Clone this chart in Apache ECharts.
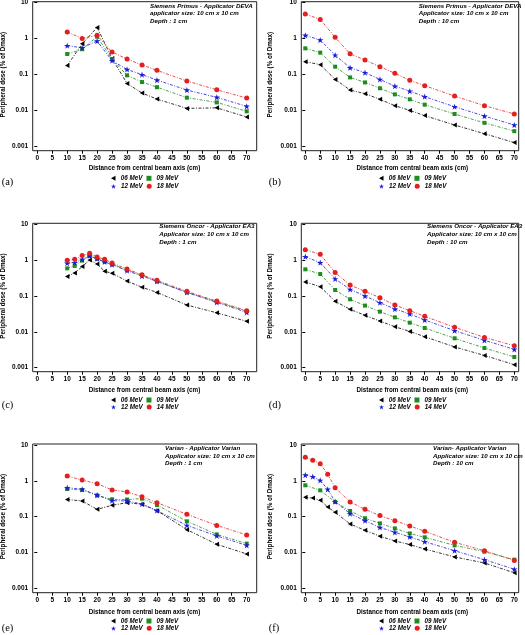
<!DOCTYPE html>
<html><head><meta charset="utf-8">
<script src="https://cdn.jsdelivr.net/npm/echarts/dist/echarts.min.js"></script>
<style>html,body{margin:0;padding:0;background:#fff}#c{width:525px;height:635px}</style>
</head><body><div id="c"></div>
<script>
// ---------- DATA ----------
const xA = [10,15,20,25,30,35,40,50,60,70];
const a06 = [0.18,0.72,2.06,0.28,0.057,0.031,0.021,0.0116,0.012,0.0067];
const a09 = [0.375,0.51,1.14,0.27,0.096,0.0625,0.045,0.023,0.017,0.0096];
const a12 = [0.64,0.56,0.86,0.245,0.14,0.1,0.071,0.0375,0.0235,0.0132];
const a18 = [1.53,1.02,1.24,0.426,0.272,0.186,0.132,0.0667,0.038,0.0225];

const xB = [0,5,10,15,20,25,30,35,40,50,60,70];
const b06 = [0.23,0.19,0.074,0.0375,0.0297,0.0207,0.0138,0.0102,0.0073,0.0040,0.0023,0.0013];
const b09 = [0.54,0.41,0.167,0.084,0.061,0.042,0.0284,0.0207,0.0147,0.0081,0.0046,0.0027];
const b12 = [1.24,0.92,0.35,0.156,0.114,0.074,0.048,0.035,0.0245,0.0129,0.0071,0.0040];
const b18 = [4.84,3.44,1.09,0.38,0.255,0.167,0.109,0.0697,0.0495,0.0255,0.0138,0.0081];

const xC = [10,12.5,15,17.5,20,22.5,25,30,35,40,50,60,70];
const c06 = [0.35,0.44,0.66,1.01,0.78,0.49,0.43,0.26,0.175,0.126,0.056,0.034,0.0196];
const c09 = [0.59,0.69,0.97,1.31,1.08,0.91,0.77,0.53,0.378,0.256,0.126,0.0695,0.0373];
const c12 = [0.82,0.85,1.05,1.34,1.1,0.89,0.75,0.51,0.36,0.256,0.126,0.066,0.035];
const c14 = [0.99,1.06,1.34,1.55,1.22,1.06,0.83,0.57,0.39,0.274,0.135,0.072,0.039];

const xD = [0,5,10,15,20,25,30,35,40,50,60,70];
const d06 = [0.246,0.182,0.071,0.0425,0.0289,0.020,0.0139,0.0103,0.0073,0.0038,0.0022,0.00121];
const d09 = [0.555,0.41,0.147,0.081,0.054,0.0366,0.0254,0.018,0.0128,0.0066,0.00354,0.00199];
const d12 = [1.25,0.85,0.30,0.153,0.1,0.065,0.0434,0.0315,0.0214,0.0108,0.0058,0.00325];
const d14 = [1.96,1.45,0.45,0.203,0.135,0.0898,0.056,0.039,0.0271,0.0134,0.0070,0.0041];

const xE = [10,15,20,25,30,35,40,50,60,70];
const e06 = [0.30,0.274,0.16,0.207,0.246,0.221,0.147,0.0434,0.0169,0.0091];
const e09 = [0.59,0.555,0.39,0.305,0.30,0.318,0.212,0.074,0.032,0.0177];
const e12 = [0.645,0.58,0.40,0.28,0.274,0.225,0.147,0.057,0.029,0.0158];
const e18 = [1.36,1.05,0.83,0.555,0.49,0.36,0.246,0.116,0.057,0.0308];

const xF = [0,2.5,5,7.5,10,15,20,25,30,35,40,50,60,70];
const xF09 = [0,5,10,15,20,25,30,35,40,50,60,70];
const f06 = [0.347,0.33,0.286,0.186,0.132,0.0624,0.0416,0.0283,0.021,0.0166,0.0125,0.0075,0.0051,0.0027];
const f09 = [0.75,0.543,0.257,0.144,0.09,0.065,0.047,0.034,0.0265,0.0158,0.0105,0.0063];
const f12 = [1.45,1.31,1.03,0.58,0.262,0.121,0.077,0.050,0.0366,0.0271,0.020,0.0112,0.0063,0.0034];
const f18 = [4.53,3.73,3.01,1.52,0.645,0.257,0.16,0.107,0.077,0.055,0.039,0.0192,0.0112,0.006];

const names18 = ['06 MeV','09 MeV','12 MeV','18 MeV'];
const names14 = ['06 MeV','09 MeV','12 MeV','14 MeV'];
const xTitle = 'Distance from central beam axis (cm)';
const yTitle = 'Peripheral dose (% of Dmax)';
const notes = [
  'Siemens Primus - Applicator DEVA\napplicator size: 10 cm x 10 cm\nDepth : 1 cm',
  'Siemens Primus - Applicator DEVA\nApplicator size: 10 cm x 10 cm\nDepth : 10 cm',
  'Siemens Oncor - Applicator EA3\nApplicator size: 10 cm x 10 cm\nDepth : 1 cm',
  'Siemens Oncor - Applicator EA3\nApplicator size: 10 cm x 10 cm\nDepth : 10 cm',
  'Varian - Applicator Varian\nApplicator size: 10 cm x 10 cm\nDepth : 1 cm',
  'Varian- Applicator Varian\nApplicator size: 10 cm x 10 cm\nDepth : 10 cm'
];
const tags = ['(a)','(b)','(c)','(d)','(e)','(f)'];

const panels = [
  {xs:[xA,xA,xA,xA], ys:[a06,a09,a12,a18], names:names18},
  {xs:[xB,xB,xB,xB], ys:[b06,b09,b12,b18], names:names18},
  {xs:[xC,xC,xC,xC], ys:[c06,c09,c12,c14], names:names14},
  {xs:[xD,xD,xD,xD], ys:[d06,d09,d12,d14], names:names14},
  {xs:[xE,xE,xE,xE], ys:[e06,e09,e12,e18], names:names18},
  {xs:[xF,xF09,xF,xF], ys:[f06,f09,f12,f18], names:names18}
];

// ---------- STYLE / LAYOUT ----------
const FONT = '"Liberation Sans", Arial, sans-serif';
const SERIF = '"Liberation Serif", "Times New Roman", serif';
const COLORS = ['#000000', '#1e8c1e', '#1a1ad8', '#e3201f'];
const TRI = 'path://M0,5L9,0L9,10Z';
const STAR = 'path://M5,0L6.18,3.62L10,3.62L6.91,5.86L8.09,9.5L5,7.26L1.91,9.5L3.09,5.86L0,3.62L3.82,3.62Z';
const SYMBOLS = [TRI, 'rect', STAR, 'circle'];
const SIZES = [5, 4, 6.5, 5];
const DASH = [3, 1.5, 1, 1.5];

const cols = [
  {gl:37.3, gw:209.4, fl:32.7, fw:224, yoff:4.6, yGap:26.7, tagX:1.7, legL:111},
  {gl:305.3, gw:209, fl:301.3, fw:217.4, yoff:4, yGap:28.5, tagX:268.7, legL:379}
];
const rows = [
  {gt:2.7, gh:144, ft:1.7, fh:149, xoff:4, xGap:15, leg:[175.3,183.3], tagY:177, noteTop:2.2},
  {gt:224.3, gh:143.4, ft:223.3, fh:148.4, xoff:4, xGap:16, leg:[397,404], tagY:400, noteTop:222.9},
  {gt:445, gh:143.3, ft:444, fh:148.7, xoff:4.4, xGap:16.5, leg:[618,625.3], tagY:623, noteTop:444.5}
];
const noteLeft = [150, 418.7, 159.3, 427, 165, 433];

const grid = [], xAxis = [], yAxis = [], series = [], legend = [], title = [];
const labelStyle = {fontSize:6.5, fontWeight:'bold', fontFamily:FONT, color:'#000'};
const nameStyle = {fontSize:6.3, fontWeight:'bold', fontFamily:FONT, color:'#000'};

panels.forEach((p, i) => {
  const c = cols[i % 2], r = rows[Math.floor(i / 2)];
  grid.push({left:c.gl, top:r.gt, width:c.gw, height:r.gh, containLabel:false, outerBoundsMode:'none', show:false});
  xAxis.push({
    type:'value', gridIndex:i, min:0, max:70, interval:5, offset:r.xoff,
    axisLine:{show:false}, axisTick:{show:true, length:3, lineStyle:{color:'#000', width:1}},
    splitLine:{show:false}, axisLabel:Object.assign({margin:4}, labelStyle),
    name:xTitle, nameLocation:'middle', nameGap:r.xGap,
    nameTextStyle:Object.assign({padding:[0,0,0,5]}, nameStyle)
  });
  yAxis.push({
    type:'log', logBase:10, gridIndex:i, min:0.001, max:10, offset:c.yoff,
    axisLine:{show:false}, axisTick:{show:true, length:3, lineStyle:{color:'#000', width:1}},
    minorTick:{show:false}, splitLine:{show:false},
    axisLabel:Object.assign({margin:4.5, formatter:v => v >= 1 ? String(Math.round(v)) : String(+v.toPrecision(1))}, labelStyle),
    name:yTitle, nameLocation:'middle', nameGap:c.yGap, nameTextStyle:nameStyle
  });
  p.names.forEach((n, k) => {
    series.push({
      type:'line', name:n, xAxisIndex:i, yAxisIndex:i, clip:false, animation:false,
      data:p.xs[k].map((x, j) => [x, p.ys[k][j]]),
      symbol:SYMBOLS[k], symbolSize:SIZES[k], symbolKeepAspect:true, showSymbol:true,
      itemStyle:{color:COLORS[k]},
      lineStyle:{color:COLORS[k], width:0.8, type:DASH},
      z:2 + k
    });
  });
  [0, 1].forEach(row => {
    legend.push({
      data:[0,1].map(q => ({name:p.names[row*2+q], icon:SYMBOLS[row*2+q]})),
      left:c.legL, top:r.leg[row], orient:'horizontal', padding:0,
      itemWidth:5, itemHeight:5, itemGap:4, selectedMode:false,
      textStyle:{fontSize:6.3, fontWeight:'bold', fontStyle:'italic', fontFamily:FONT, color:'#000'}
    });
  });
  title.push({
    text:notes[i], left:noteLeft[i], top:r.noteTop, padding:0,
    textStyle:{fontSize:6.2, fontWeight:'bold', fontStyle:'italic', fontFamily:FONT, lineHeight:7.6, color:'#000'}
  });
  title.push({
    text:tags[i], left:c.tagX, top:r.tagY, padding:0,
    textStyle:{fontSize:10.5, fontWeight:'normal', fontFamily:SERIF, color:'#000'}
  });
});
// frame boxes (empty grids with border)
panels.forEach((p, i) => {
  const c = cols[i % 2], r = rows[Math.floor(i / 2)];
  grid.push({left:c.fl, top:r.ft, width:c.fw, height:r.fh, show:true, borderColor:'#222', borderWidth:1,
             backgroundColor:'transparent', containLabel:false, outerBoundsMode:'none'});
});

const chart = echarts.init(document.getElementById('c'), null, {renderer:'canvas'});
chart.setOption({
  backgroundColor:'#fff', animation:false,
  grid, xAxis, yAxis, series, legend, title, tooltip:{show:false}
});
</script></body></html>
